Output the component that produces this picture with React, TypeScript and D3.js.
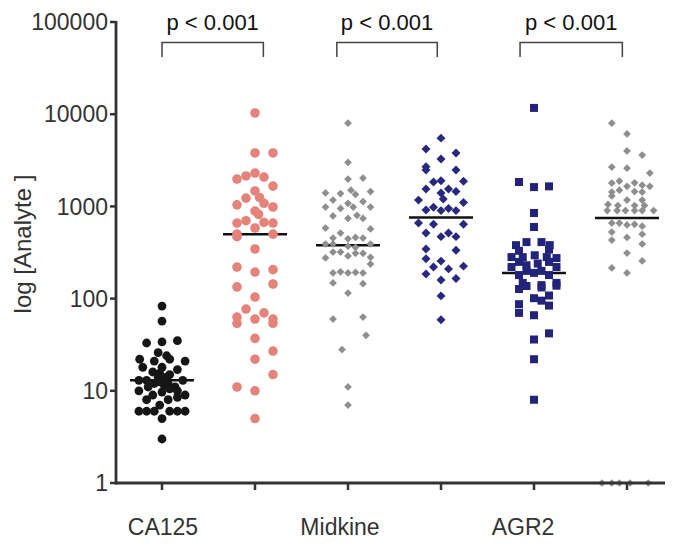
import React from "react";
import * as d3 from "d3";

const yTicks = [1, 10, 100, 1000, 10000, 100000];
const categories = ["CA125", "Midkine", "AGR2"];
const pValues = ["p < 0.001", "p < 0.001", "p < 0.001"];
const medians = [13, 500, 380, 760, 190, 750];

// [value, jitter slot]
const ca125Control: [number, number][] = [
  [83, 0], [57, 0], [33, -2], [34, 0], [35, 2], [26, -0.5], [24, 0.6],
  [22, -2.9], [21, -1], [22, 1], [21, 3], [18, -2.5], [18, 0], [17, 2], [16, -1.2], [15, 1],
  [15.5, -0.3], [14, -0.5], [14, 0.5],
  [13, -3], [13, -2], [13.5, 0], [13, 2.7], [12, -1], [12, 0.8], [12.5, -0.3], [11.5, 0.3],
  [11, -1.8], [11, 1.7], [10.5, 1],
  [10, -3], [9.7, 0], [10, 2], [9, -1.2], [9, 3], [8.5, 2], [8, 0.8], [8, -2], [7, -0.3],
  [6, -3], [6, -2], [6, -1], [6, 1], [6, 2], [6, 3], [5, 0], [3, 0],
];
const ca125Cancer: [number, number][] = [
  [10300, 0], [3800, 0], [3800, 2], [1980, -2], [2140, -1], [2300, 0], [2080, 1], [1660, 2],
  [1470, 0], [1230, -1], [1250, 0.5], [1040, -2], [1080, 1], [985, 2], [890, 0], [820, 0.4],
  [660, -2], [700, -1], [670, 1], [660, 2], [583, 0], [500, -2], [470, -2], [500, 2],
  [345, 0], [220, -2], [194, 0], [206, 2], [134, -2], [144, 2], [104, 0], [77, -1], [70, 1],
  [63, -2], [54, -2], [60, 0], [60, 2], [54, 2], [37, 0], [27, 2], [22, 0], [15, 2],
  [11, -2], [10, 0], [5, 0],
];
const midkineControl: [number, number][] = [
  [8000, 0], [3000, 0], [1980, 0], [2030, 2], [1400, -3], [1380, -1], [1500, 0.4], [1350, 1],
  [1450, 3], [1170, -2], [1080, 0], [1130, 2], [985, -3], [950, -1], [985, 0.7], [985, 3],
  [787, -2], [740, 0], [800, 1.2], [740, 2], [583, -3], [514, -1], [570, 3], [454, -2],
  [445, 0], [460, 1], [454, 2], [391, -3], [391, -2], [370, 0], [360, 1], [391, 3],
  [320, -2], [320, -1], [310, 1], [310, 2], [276, -3], [290, 0], [280, 3], [237, 3],
  [190, -2], [195, -1], [190, 0], [192, 1], [190, 2], [148, -2], [145, 2], [115, 0],
  [60, -2], [63, 2], [40, 2.4], [28, -0.8], [11, 0], [7, 0],
];
const midkineCancer: [number, number][] = [
  [5500, 0], [4200, -2], [3800, 2], [3270, 0], [2700, -2], [2480, -2], [2480, 2],
  [1840, -1], [1900, 0], [1870, 3], [1545, -2], [1545, 1], [1400, 0], [1450, 2],
  [1170, -3], [1200, 0.3], [1100, 3], [914, -2], [980, -1], [900, 0], [950, 1], [900, 2],
  [660, -3], [640, -1], [640, 3], [514, -2], [470, 0], [514, 1], [470, 2], [345, -2],
  [335, 2], [270, -2], [255, 0], [220, -1], [210, 1], [225, 3], [185, -2], [159, 0],
  [165, 2], [107, 0], [59, 0],
];
const agr2Control: [number, number][] = [
  [11700, 0], [1840, -2], [1620, 0], [1650, 2], [848, 0], [598, 0],
  [380, -2.4], [410, -1], [410, 1], [380, 2.1], [330, -2], [340, 2],
  [282, -3], [282, -1.5], [295, 0.1], [282, 1.7], [275, 3], [250, -2], [250, 2],
  [220, -3], [230, -1], [240, 0.5], [220, 3], [200, -1], [200, 1], [180, -2], [190, 0],
  [180, 2], [148, -1.5], [140, 1], [148, 3], [127, -2], [137, -1], [132, 1], [138, 3],
  [101, 0], [108, 2], [95, 1], [87, -2], [84, 2], [70, -2], [66, 0], [42, 2], [36, 0],
  [22, 0], [8, 0],
];
const agr2Cancer: [number, number][] = [
  [8000, -2], [6100, 0], [4000, 0], [3600, 2], [2670, -2], [2600, 0], [2300, 3],
  [1790, -2], [1880, -1], [1800, 1], [1700, 2], [1650, 3], [1430, -2], [1500, -1],
  [1650, 0], [1450, 1], [1430, 2], [1300, -2], [1170, 0], [1170, 2], [1050, -2.5],
  [1020, -1.2], [1020, 1], [1020, 2.3], [900, -2.6], [900, -1.3], [900, -0.2], [900, 1],
  [900, 2], [900, 3.5], [660, -2], [660, -1], [630, 0], [640, 1], [610, 2], [527, -2],
  [500, 2], [432, -2], [460, 0], [391, 2], [312, 0], [256, 2], [215, -2], [190, 0],
  [1, -3.3], [1, -2], [1, -1], [1, 0.4], [1, 2.8],
];

const groups = [ca125Control, ca125Cancer, midkineControl, midkineCancer, agr2Control, agr2Cancer];

const styles = [
  { shape: "circle", r: 4.4, color: "#161616", step: 7.7 },
  { shape: "circle", r: 4.8, color: "#e5827a", step: 9 },
  { shape: "diamond", size: 30, color: "#8e8e8e", step: 7.5 },
  { shape: "diamond", size: 40, color: "#27287e", step: 7.5 },
  { shape: "square", size: 64, color: "#22237a", step: 7.5 },
  { shape: "diamond", size: 30, color: "#8e8e8e", step: 7.6 },
];

const labelGroupIdx = [0, 2, 4];
const labelDx = [1, -8, -11];
const brackets: [number, number][] = [[0, 1.09], [1.88, 2.96], [3.85, 4.95]];

const W = 685, H = 547;
const axisX = 116;
const y = d3.scaleLog().domain([1, 100000]).range([483, 22]);
const x = d3.scaleLinear().domain([0, 5]).range([162, 627]);

const font = "'Liberation Sans', Arial, sans-serif";

export default function App() {
  const sq = d3.symbol().type(d3.symbolSquare);
  return (
    <svg width={W} height={H} style={{ position: "absolute", left: 0, top: 0, background: "#fff" }} fontFamily={font}>
      {medians.map((m, i) => (
        <line key={"m" + i} x1={x(i) - 32} x2={x(i) + 32} y1={y(m)} y2={y(m)} stroke="#111" strokeWidth={2.5} />
      ))}
      {groups.map((g, gi) => {
        const st: any = styles[gi];
        return (
          <g key={"g" + gi} fill={st.color}>
            {g.map(([v, s], k) => {
              const cx = x(gi) + s * st.step;
              const cy = y(v);
              if (st.shape === "circle") return <circle key={k} cx={cx} cy={cy} r={st.r} />;
              if (st.shape === "square")
                return <path key={k} d={sq.size(st.size)() as string} transform={`translate(${cx},${cy})`} />;
              return <path key={k} d={sq.size(st.size)() as string} transform={`translate(${cx},${cy}) rotate(45)`} />;
            })}
          </g>
        );
      })}
      <line x1={axisX} x2={axisX} y1={y(100000) - 1} y2={y(1) + 1.5} stroke="#333" strokeWidth={2.8} />
      <line x1={axisX} x2={665} y1={y(1)} y2={y(1)} stroke="#333" strokeWidth={2.8} />
      {yTicks.map((t) => (
        <g key={"t" + t}>
          <line x1={axisX - 6} x2={axisX} y1={y(t)} y2={y(t)} stroke="#333" strokeWidth={2.5} />
          <text x={axisX - 8} y={y(t)} dy="0.36em" textAnchor="end" fontSize={23} fill="#333">
            {t}
          </text>
        </g>
      ))}
      {groups.map((_, i) => (
        <line key={"xt" + i} x1={x(i)} x2={x(i)} y1={y(1)} y2={y(1) + 7} stroke="#333" strokeWidth={2.5} />
      ))}
      {categories.map((c, i) => (
        <text key={c} x={x(labelGroupIdx[i]) + labelDx[i]} y={535} textAnchor="middle" fontSize={23} fill="#333">
          {c}
        </text>
      ))}
      <text transform={`translate(31,244) rotate(-90)`} textAnchor="middle" fontSize={24} fill="#333">
        log [Analyte ]
      </text>
      {brackets.map(([a, b], i) => (
        <g key={"b" + i}>
          <path d={`M${x(a)},57V42.5H${x(b)}V57`} fill="none" stroke="#444" strokeWidth={1.5} />
          <text x={(x(a) + x(b)) / 2} y={30} textAnchor="middle" fontSize={22} fill="#111">
            {pValues[i]}
          </text>
        </g>
      ))}
    </svg>
  );
}
